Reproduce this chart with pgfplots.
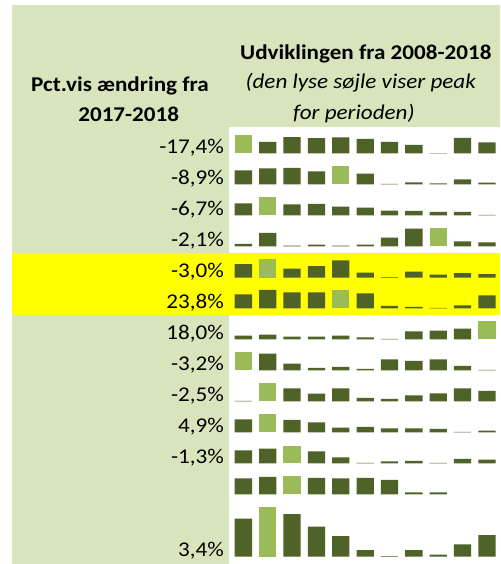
\documentclass[border=0pt]{standalone}
\usepackage{fontspec}
\setmainfont{Carlito}
\usepackage{pgfplots}
\pgfplotsset{compat=1.18}
\definecolor{bg}{HTML}{D8E4BC}
\definecolor{darkolive}{HTML}{4F6228}
\definecolor{lightolive}{HTML}{9BBB59}
\definecolor{hl}{HTML}{FFFF00}
\pgfplotsset{spark/.style={scale only axis, width=267.9pt, xmin=0.5, xmax=11.5, ymin=0,
  axis lines=none, ticks=none, clip=false, anchor=south west, ybar, bar width=17.3pt, bar shift=0pt,
  height=18.67pt, ymax=56},
  dk/.style={fill=darkolive, draw=none},
  lt/.style={fill=lightolive, draw=none}}
\newcommand{\lab}[2]{\node[anchor=base east, xscale=1.1, inner sep=0pt] at (224pt,{(564-#1)*1pt}) {#2};}
\begin{document}
\begin{tikzpicture}[x=1pt,y=1pt]
\useasboundingbox (0,0) rectangle (500,564);
\fill[white] (0,0) rectangle (500,564);
\fill[bg] (12,0) rectangle (500,559);
\fill[white] (229,0) rectangle (500,437);
\fill[hl] (12,249) rectangle (500,310.7);
\fontsize{21}{25}\selectfont
% headers
\node[anchor=base, xscale=1.1, inner sep=0pt] at (365.8,504) {\bfseries Udviklingen fra 2008-2018};
\node[anchor=base, xscale=1.1, inner sep=0pt] at (360.7,475) {\itshape (den lyse søjle viser peak};
\node[anchor=base, xscale=1.1, inner sep=0pt] at (353.8,444) {\itshape for perioden)};
\node[anchor=base, xscale=1.1, inner sep=0pt] at (120,472.5) {\bfseries Pct.vis ændring fra};
\node[anchor=base, xscale=1.1, inner sep=0pt] at (128.7,442.5) {\bfseries 2017-2018};
% labels
\lab{153.5}{-17,4\%}
\lab{184.3}{-8,9\%}
\lab{215.3}{-6,7\%}
\lab{246.3}{-2,1\%}
\lab{277.7}{-3,0\%}
\lab{308.3}{23,8\%}
\lab{339.3}{18,0\%}
\lab{370.3}{-3,2\%}
\lab{401.3}{-2,5\%}
\lab{432.3}{4,9\%}
\lab{463.3}{-1,3\%}
\lab{556.7}{3,4\%}
% row 1
\begin{axis}[spark, at={(231.2pt,410.5pt)}]
\addplot[dk] coordinates {(2,35) (3,49) (4,46) (5,48) (6,44) (7,35) (8,26) (9,1) (10,47) (11,33)};
\addplot[lt] coordinates {(1,55)};
\end{axis}
% row 2
\begin{axis}[spark, at={(231.2pt,379.7pt)}]
\addplot[dk] coordinates {(1,42) (2,48) (3,49) (4,39) (6,32) (7,1) (8,6) (9,3) (10,15) (11,5)};
\addplot[lt] coordinates {(5,56)};
\end{axis}
% row 3
\begin{axis}[spark, at={(231.2pt,348.7pt)}]
\addplot[dk] coordinates {(1,36) (3,33) (4,34) (5,26) (6,23) (7,14) (8,13) (9,10) (10,10) (11,1)};
\addplot[lt] coordinates {(2,56)};
\end{axis}
% row 4
\begin{axis}[spark, at={(231.2pt,317.7pt)}]
\addplot[dk] coordinates {(1,7) (2,40) (3,2) (4,5) (5,2) (6,5) (7,26) (8,53) (10,15) (11,12)};
\addplot[lt] coordinates {(9,56)};
\end{axis}
% row 5
\begin{axis}[spark, at={(231.2pt,286.3pt)}]
\addplot[dk] coordinates {(1,41) (3,27) (4,35) (5,52) (6,15) (7,2) (8,18) (9,9) (10,14) (11,11)};
\addplot[lt] coordinates {(2,57)};
\end{axis}
% row 6
\begin{axis}[spark, at={(231.2pt,255.7pt)}]
\addplot[dk] coordinates {(1,42) (2,55) (3,48) (4,48) (6,45) (7,7) (8,4) (9,1) (10,9) (11,39)};
\addplot[lt] coordinates {(5,56)};
\end{axis}
% row 7
\begin{axis}[spark, at={(231.2pt,224.7pt)}]
\addplot[dk] coordinates {(1,11) (2,14) (3,8) (4,8) (5,11) (6,6) (7,1) (8,24) (9,26) (10,32)};
\addplot[lt] coordinates {(11,56)};
\end{axis}
% row 8
\begin{axis}[spark, at={(231.2pt,193.7pt)}]
\addplot[dk] coordinates {(2,50) (3,20) (4,7) (5,10) (6,4) (7,33) (8,28) (9,33) (10,13) (11,1)};
\addplot[lt] coordinates {(1,56)};
\end{axis}
% row 9
\begin{axis}[spark, at={(231.2pt,162.7pt)}]
\addplot[dk] coordinates {(1,1) (3,39) (4,23) (5,39) (6,10) (7,7) (8,18) (9,24) (10,39) (11,31)};
\addplot[lt] coordinates {(2,56)};
\end{axis}
% row 10
\begin{axis}[spark, at={(231.2pt,131.7pt)}]
\addplot[dk] coordinates {(1,39) (3,37) (4,30) (5,14) (6,16) (7,12) (8,12) (9,10) (10,1) (11,5)};
\addplot[lt] coordinates {(2,56)};
\end{axis}
% row 11
\begin{axis}[spark, at={(231.2pt,100.7pt)}]
\addplot[dk] coordinates {(1,39) (2,44) (4,36) (5,18) (6,1) (7,6) (8,7) (9,1) (10,13) (11,11)};
\addplot[lt] coordinates {(3,53)};
\end{axis}
% row 12
\begin{axis}[spark, at={(231.2pt,69.7pt)}]
\addplot[dk] coordinates {(1,48) (2,52) (4,49) (5,48) (6,49) (7,43) (8,6) (9,6)};
\addplot[lt] coordinates {(3,54)};
\end{axis}
% row 13
\begin{axis}[spark, at={(231.2pt,7.3pt)}, height=49.33pt, ymax=148]
\addplot[dk] coordinates {(1,114) (3,128) (4,90) (5,62) (6,20) (7,2) (8,20) (9,6) (10,37) (11,65)};
\addplot[lt] coordinates {(2,148)};
\end{axis}
\end{tikzpicture}
\end{document}
